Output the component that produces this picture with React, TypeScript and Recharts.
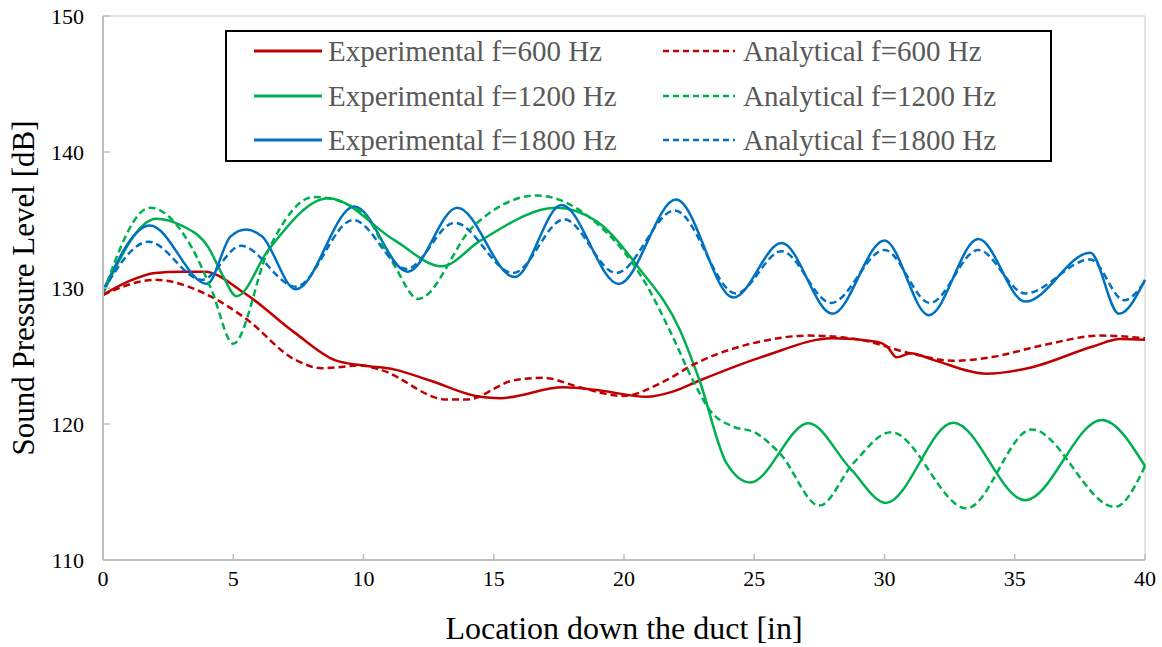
import React from 'react';
import { LineChart, Line, XAxis, YAxis, Legend, ReferenceLine } from 'recharts';

type Pt = { x: number; y: number };

const xTicks = [0, 5, 10, 15, 20, 25, 30, 35, 40];
const yTicks = [110, 120, 130, 140, 150];

const exp600: Pt[] = [
  { x: 0, y: 129.5 }, { x: 1, y: 130.5 }, { x: 2.0, y: 131.1 }, { x: 3.0, y: 131.2 }, { x: 3.9, y: 131.2 },
  { x: 5.45, y: 129.6 }, { x: 7.37, y: 126.7 }, { x: 8.9, y: 124.7 }, { x: 10, y: 124.3 }, { x: 11.2, y: 124.0 },
  { x: 12.55, y: 123.2 }, { x: 14.47, y: 122.0 }, { x: 15.24, y: 121.9 }, { x: 17.67, y: 122.7 }, { x: 18.95, y: 122.5 },
  { x: 20.87, y: 122.0 }, { x: 21.9, y: 122.4 }, { x: 22.9, y: 123.2 }, { x: 25.4, y: 125.0 }, { x: 28.0, y: 126.3 },
  { x: 29.7, y: 126.05 }, { x: 30.1, y: 125.7 }, { x: 30.46, y: 124.9 }, { x: 31.0, y: 125.2 }, { x: 31.9, y: 124.7 },
  { x: 33.9, y: 123.7 }, { x: 35.5, y: 124.1 }, { x: 38.0, y: 125.7 }, { x: 39.04, y: 126.25 }, { x: 40, y: 126.2 },
];

const ana600: Pt[] = [
  { x: 0, y: 129.5 }, { x: 2.0, y: 130.6 }, { x: 3.9, y: 129.6 }, { x: 5.45, y: 127.8 }, { x: 7.4, y: 124.7 },
  { x: 8.4, y: 124.1 }, { x: 9.9, y: 124.3 }, { x: 10.63, y: 124.0 }, { x: 13.2, y: 121.8 }, { x: 13.96, y: 121.8 },
  { x: 15.75, y: 123.2 }, { x: 16.9, y: 123.4 }, { x: 18.3, y: 122.7 }, { x: 19.97, y: 122.06 }, { x: 21.5, y: 123.1 },
  { x: 22.8, y: 124.5 }, { x: 25.2, y: 126.05 }, { x: 27.1, y: 126.5 }, { x: 29.05, y: 126.2 }, { x: 30.98, y: 125.2 },
  { x: 32.6, y: 124.65 }, { x: 34.2, y: 124.95 }, { x: 36.1, y: 125.8 }, { x: 38.3, y: 126.5 }, { x: 40, y: 126.3 },
];

const exp1200: Pt[] = [
  { x: 0, y: 129.6 }, { x: 2.05, y: 135.1 }, { x: 3.0, y: 134.6 }, { x: 4.04, y: 133.0 }, { x: 4.55, y: 131.1 },
  { x: 5.13, y: 129.4 }, { x: 6.35, y: 132.8 }, { x: 8.65, y: 136.6 }, { x: 11.2, y: 133.5 }, { x: 13.0, y: 131.6 },
  { x: 14.5, y: 133.5 }, { x: 17.4, y: 135.9 }, { x: 18.95, y: 134.9 }, { x: 20.6, y: 131.4 }, { x: 22.15, y: 126.9 },
  { x: 22.9, y: 123.2 }, { x: 23.94, y: 117.1 }, { x: 24.84, y: 115.7 }, { x: 27.08, y: 120.05 }, { x: 28.7, y: 116.7 },
  { x: 30.05, y: 114.2 }, { x: 32.64, y: 120.1 }, { x: 35.4, y: 114.4 }, { x: 38.34, y: 120.3 }, { x: 40, y: 116.9 },
];

const ana1200: Pt[] = [
  { x: 0, y: 129.6 }, { x: 1.8, y: 135.9 }, { x: 3.4, y: 133.0 }, { x: 4.17, y: 129.85 }, { x: 5.0, y: 125.9 },
  { x: 6.35, y: 132.8 }, { x: 8.1, y: 136.7 }, { x: 9.93, y: 135.6 }, { x: 11.14, y: 131.8 }, { x: 12.1, y: 129.2 },
  { x: 14.2, y: 134.5 }, { x: 16.65, y: 136.8 }, { x: 18.8, y: 135.0 }, { x: 20.9, y: 130.1 }, { x: 21.8, y: 126.7 },
  { x: 22.7, y: 123.0 }, { x: 23.3, y: 121.0 }, { x: 24.2, y: 119.8 }, { x: 25.0, y: 119.4 }, { x: 26.0, y: 117.8 },
  { x: 27.5, y: 114.0 }, { x: 28.8, y: 117.1 }, { x: 30.25, y: 119.4 }, { x: 33.15, y: 113.8 }, { x: 35.65, y: 119.6 },
  { x: 38.85, y: 113.9 }, { x: 40, y: 116.9 },
];

const exp1800: Pt[] = [
  { x: 0, y: 129.8 }, { x: 1.8, y: 134.6 }, { x: 4.0, y: 130.3 }, { x: 4.9, y: 133.8 }, { x: 5.5, y: 134.3 },
  { x: 6.1, y: 133.8 }, { x: 7.4, y: 129.9 }, { x: 9.65, y: 136.0 }, { x: 11.7, y: 131.2 }, { x: 13.6, y: 135.9 },
  { x: 15.8, y: 130.8 }, { x: 17.6, y: 136.1 }, { x: 19.8, y: 130.3 }, { x: 22.0, y: 136.5 }, { x: 24.2, y: 129.3 },
  { x: 26.05, y: 133.3 }, { x: 28.0, y: 128.1 }, { x: 30.0, y: 133.5 }, { x: 31.7, y: 128.0 }, { x: 33.6, y: 133.6 },
  { x: 35.4, y: 129.0 }, { x: 37.9, y: 132.6 }, { x: 39.0, y: 128.1 }, { x: 40, y: 130.6 },
];

const ana1800: Pt[] = [
  { x: 0, y: 129.8 }, { x: 1.75, y: 133.4 }, { x: 3.8, y: 130.6 }, { x: 5.3, y: 133.1 }, { x: 7.4, y: 130.1 },
  { x: 9.6, y: 135.0 }, { x: 11.65, y: 131.4 }, { x: 13.5, y: 134.8 }, { x: 15.75, y: 131.1 }, { x: 17.7, y: 135.05 },
  { x: 19.7, y: 131.1 }, { x: 21.95, y: 135.7 }, { x: 24.3, y: 129.6 }, { x: 26.05, y: 132.7 }, { x: 27.95, y: 128.9 },
  { x: 30.0, y: 132.8 }, { x: 31.75, y: 128.9 }, { x: 33.6, y: 132.8 }, { x: 35.4, y: 129.6 }, { x: 37.9, y: 132.1 },
  { x: 39.2, y: 129.1 }, { x: 40, y: 130.5 },
];

const RED = '#C00000';
const GREEN = '#00B050';
const BLUE = '#0070C0';
const FONT = '"Liberation Serif", "Times New Roman", serif';
const AXIS_GRAY = '#bfbfbf';

const series = [
  { name: 'Experimental f=600 Hz', data: exp600, color: RED, dashed: false },
  { name: 'Experimental f=1200 Hz', data: exp1200, color: GREEN, dashed: false },
  { name: 'Experimental f=1800 Hz', data: exp1800, color: BLUE, dashed: false },
  { name: 'Analytical f=600 Hz', data: ana600, color: RED, dashed: true },
  { name: 'Analytical f=1200 Hz', data: ana1200, color: GREEN, dashed: true },
  { name: 'Analytical f=1800 Hz', data: ana1800, color: BLUE, dashed: true },
];

const XTick = (props: any) => {
  const { x, y, payload } = props;
  return (
    <g>
      <line x1={x} x2={x} y1={y} y2={y - 6} stroke={AXIS_GRAY} strokeWidth={1.5} />
      <text x={x} y={y + 26} textAnchor="middle" fontSize={22} fontFamily={FONT} fill="#000">
        {payload.value}
      </text>
    </g>
  );
};

const YTick = (props: any) => {
  const { x, y, payload } = props;
  return (
    <g>
      <line x1={x} x2={x + 7} y1={y} y2={y} stroke={AXIS_GRAY} strokeWidth={1.5} />
      <text x={x - 19} y={y + 7.5} textAnchor="end" fontSize={22} fontFamily={FONT} fill="#000">
        {payload.value}
      </text>
    </g>
  );
};

const LegendBox = () => {
  const rows = [21, 66, 110];
  const cols = [
    { lx1: 29, lx2: 97, tx: 103 },
    { lx1: 438, lx2: 510, tx: 518 },
  ];
  return (
    <svg width={827} height={132} style={{ display: 'block' }}>
      <rect x={1} y={1} width={825} height={130} fill="#fff" stroke="#000" strokeWidth={2} />
      {series.map((s, i) => {
        const col = cols[s.dashed ? 1 : 0];
        const cy = rows[i % 3];
        return (
          <g key={s.name}>
            <line
              x1={col.lx1}
              x2={col.lx2}
              y1={cy}
              y2={cy}
              stroke={s.color}
              strokeWidth={s.dashed ? 2.5 : 3}
              strokeDasharray={s.dashed ? '6 4' : undefined}
            />
            <text x={col.tx} y={cy + 10} fontSize={29} fontFamily={FONT} fill="#595959">
              {s.name}
            </text>
          </g>
        );
      })}
    </svg>
  );
};

export default function App() {
  return (
    <div style={{ position: 'absolute', left: 0, top: 0, width: 1162, height: 647 }}>
      <LineChart width={1162} height={647} margin={{ top: 16, right: 17, bottom: 5, left: 0 }}>
        <XAxis
          type="number"
          dataKey="x"
          domain={[0, 40]}
          ticks={xTicks}
          interval={0}
          allowDuplicatedCategory={false}
          height={82}
          tickSize={0}
          tickMargin={0}
          tickLine={false}
          tick={<XTick />}
          axisLine={{ stroke: AXIS_GRAY, strokeWidth: 2 }}
          label={{
            value: 'Location down the duct [in]',
            position: 'insideBottom',
            offset: 3,
            fontSize: 32,
            fontFamily: FONT,
            fill: '#000',
          }}
        />
        <YAxis
          type="number"
          domain={[110, 150]}
          ticks={yTicks}
          interval={0}
          width={103}
          tickSize={0}
          tickMargin={0}
          tickLine={false}
          tick={<YTick />}
          axisLine={{ stroke: AXIS_GRAY, strokeWidth: 2 }}
          label={{
            value: 'Sound Pressure Level [dB]',
            angle: -90,
            position: 'insideLeft',
            offset: 23,
            fontSize: 31,
            fontFamily: FONT,
            fill: '#000',
            style: { textAnchor: 'middle' },
          }}
        />
        <ReferenceLine y={150} stroke="#e4e4e4" strokeWidth={2} />
        <ReferenceLine x={40} stroke="#e4e4e4" strokeWidth={2} />
        {series.map((s) => (
          <Line
            key={s.name}
            name={s.name}
            data={s.data}
            dataKey="y"
            type="monotone"
            stroke={s.color}
            strokeWidth={2.5}
            strokeDasharray={s.dashed ? '7 4' : undefined}
            dot={false}
            activeDot={false}
            isAnimationActive={false}
          />
        ))}
        <Legend
          layout="horizontal"
          verticalAlign="middle"
          align="center"
          content={() => <LegendBox />}
          wrapperStyle={{ position: 'absolute', left: 225, top: 30, width: 827, height: 132 }}
        />
      </LineChart>
    </div>
  );
}
